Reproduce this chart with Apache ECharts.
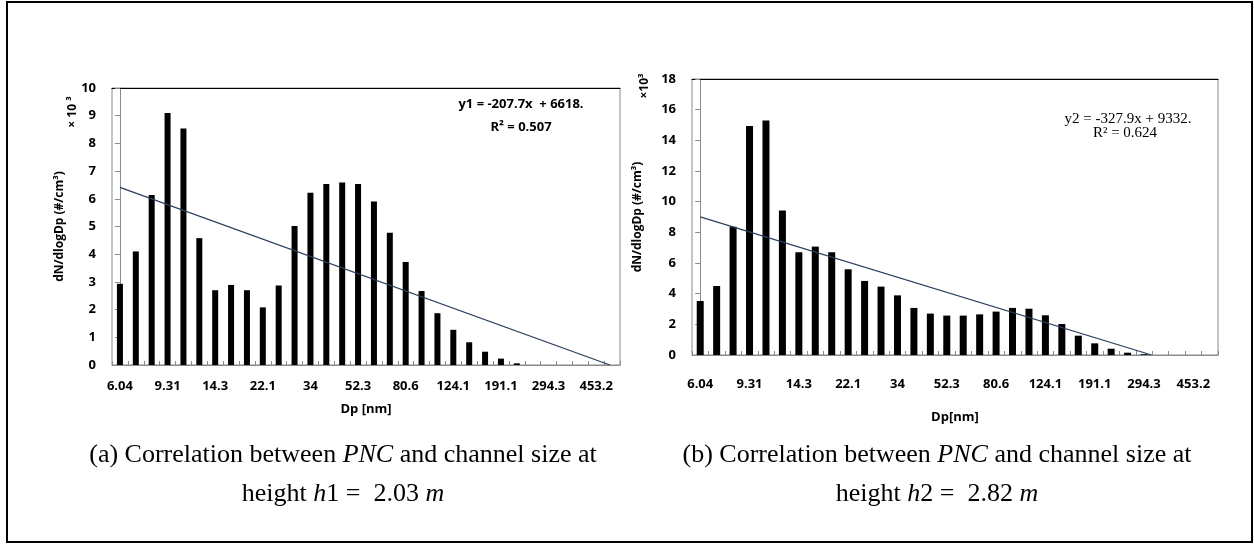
<!DOCTYPE html>
<html>
<head>
<meta charset="utf-8">
<script src="https://cdn.jsdelivr.net/npm/echarts@6/dist/echarts.min.js"></script>
<style>
  html, body { margin: 0; padding: 0; background: #fff; }
  #chart { width: 1254px; height: 544px; }
</style>
</head>
<body>
<div id="chart"></div>
<script>
// Channel mid-point diameters shown on the x axis (every third channel is labelled)
const tickLabels = ['6.04', '9.31', '14.3', '22.1', '34', '52.3', '80.6', '124.1', '191.1', '294.3', '453.2'];
const channelCount = 32;

// dN/dlogDp in units of 10^3 #/cm^3, one value per channel
const valuesH1 = [2.93, 4.10, 6.14, 9.10, 8.54, 4.58, 2.70, 2.89, 2.70, 2.08, 2.87, 5.02, 6.22, 6.53, 6.59, 6.53,
                  5.90, 4.77, 3.72, 2.67, 1.87, 1.27, 0.82, 0.48, 0.23, 0.06, 0, 0, 0, 0, 0, 0];
const valuesH2 = [3.52, 4.50, 8.37, 14.93, 15.30, 9.43, 6.70, 7.07, 6.70, 5.59, 4.83, 4.46, 3.89, 3.07, 2.70, 2.57,
                  2.57, 2.65, 2.83, 3.07, 3.02, 2.59, 2.02, 1.26, 0.76, 0.41, 0.15, 0.05, 0, 0, 0, 0];

// Linear fits y = slope * x + intercept (x = channel number starting at 1, y in #/cm^3)
const fitH1 = { name: 'y1', slope: -207.7, intercept: 6618, r2: '0.507' };
const fitH2 = { name: 'y2', slope: -327.9, intercept: 9332, r2: '0.624' };

const AXIS_GREY = '#8a8a8a';
const SANS = '"Open Sans", "Liberation Sans", sans-serif';
const SERIF = '"Liberation Serif", "DejaVu Serif", serif';

function buildCategories(labels, count) {
  const cats = [];
  for (let i = 0; i < count; i++) cats.push(i % 3 === 0 ? labels[i / 3] : '');
  return cats;
}

// End points of a fit line, from the first channel to where it meets zero
function fitSegment(fit, count) {
  const f = x => (fit.slope * x + fit.intercept) / 1000;
  const xEnd = Math.min(-fit.intercept / fit.slope, count);
  return [[0, f(1)], [xEnd - 1, Math.max(f(xEnd), 0)]];
}

const categories = buildCategories(tickLabels, channelCount);

function catAxis(gridIndex, name, nameGap, labelMargin) {
  return {
    type: 'category', gridIndex, data: categories,
    axisLine: { lineStyle: { color: AXIS_GREY, width: 1 } },
    axisTick: { show: true, inside: true, length: 4, interval: 0, lineStyle: { color: AXIS_GREY } },
    axisLabel: { interval: 2, color: '#000', fontFamily: SANS, fontWeight: 'bold', fontSize: 13, margin: labelMargin },
    splitLine: { show: false },
    name, nameLocation: 'middle', nameGap,
    nameTextStyle: { color: '#000', fontFamily: SANS, fontWeight: 'bold', fontSize: 13 }
  };
}
function fitAxis(gridIndex) {
  return {
    type: 'value', gridIndex, position: 'top', min: -0.5, max: channelCount - 0.5,
    axisLine: { show: true, onZero: false, lineStyle: { color: '#000', width: 1 } },
    axisTick: { show: false }, axisLabel: { show: false }, splitLine: { show: false }
  };
}
function valAxis(gridIndex, max, interval, nameGap) {
  return {
    type: 'value', gridIndex, min: 0, max, interval,
    axisLine: { show: true, lineStyle: { color: AXIS_GREY } },
    axisTick: { show: true, length: 5, lineStyle: { color: AXIS_GREY } },
    axisLabel: { color: '#000', fontFamily: SANS, fontWeight: 'bold', fontSize: 13, margin: 16 },
    splitLine: { show: false },
    name: 'dN/dlogDp (#/cm³)', nameLocation: 'middle', nameRotate: 90, nameGap,
    nameTextStyle: { color: '#000', fontFamily: SANS, fontWeight: 'bold', fontSize: 12 }
  };
}
function barSeries(axisIndex, data, width) {
  return {
    type: 'bar', xAxisIndex: axisIndex * 2, yAxisIndex: axisIndex, data,
    barWidth: width, itemStyle: { color: '#000' }, silent: true
  };
}
function lineSeries(axisIndex, fit) {
  return {
    type: 'line', xAxisIndex: axisIndex * 2 + 1, yAxisIndex: axisIndex,
    data: fitSegment(fit, channelCount), symbol: 'none', silent: true,
    lineStyle: { color: '#2b3f5c', width: 1.3 }
  };
}

function txt(text, x, y, font, align, extra) {
  return Object.assign({
    type: 'text', x, y, silent: true,
    style: { text, font, fill: '#000', textAlign: align || 'center', textVerticalAlign: 'middle' }
  }, extra || {});
}

const CAPTION_SIZE = 26;
const captionRich = {
  i: { fontFamily: SERIF, fontStyle: 'italic', fontSize: CAPTION_SIZE, fill: '#000' }
};
function caption(text, x, y) {
  return {
    type: 'text', x, y, silent: true,
    style: { text, font: CAPTION_SIZE + 'px ' + SERIF, fill: '#000', textAlign: 'center', textVerticalAlign: 'middle', rich: captionRich }
  };
}

const option = {
  backgroundColor: '#fff',
  animation: false,
  grid: [
    { left: 112, top: 88, width: 508, height: 277, show: true, borderColor: AXIS_GREY, borderWidth: 1 },
    { left: 692, top: 79, width: 526, height: 276, show: true, borderColor: AXIS_GREY, borderWidth: 1 }
  ],
  xAxis: [
    catAxis(0, 'Dp [nm]', 38, 15), fitAxis(0),
    catAxis(1, 'Dp[nm]', 56, 23), fitAxis(1)
  ],
  yAxis: [ valAxis(0, 10, 1, 46), valAxis(1, 18, 2, 48) ],
  series: [
    barSeries(0, valuesH1, 6), lineSeries(0, fitH1),
    barSeries(1, valuesH2, 7), lineSeries(1, fitH2)
  ],
  graphic: [
    // outer frame
    { type: 'rect', silent: true, shape: { x: 7, y: 2, width: 1245, height: 540 },
      style: { stroke: '#000', lineWidth: 2, fill: null } },
    // scale factors of the y axes
    txt('× 10 ³', 73, 112, 'bold 12px ' + SANS, 'center', { rotation: Math.PI / 2 }),
    txt('×10³', 645, 86, 'bold 12px ' + SANS, 'center', { rotation: Math.PI / 2 }),
    // fit equations
    txt(fitH1.name + ' = ' + fitH1.slope + 'x  + ' + fitH1.intercept + '.', 521, 104, 'bold 13px ' + SANS),
    txt('R² = ' + fitH1.r2, 521, 127, 'bold 13px ' + SANS),
    txt(fitH2.name + ' = ' + fitH2.slope + 'x + ' + fitH2.intercept + '.', 1128, 119, '15px ' + SERIF),
    txt('R² = ' + fitH2.r2, 1125, 133, '15px ' + SERIF),
    // sub-figure captions
    caption('(a) Correlation between {i|PNC} and channel size at', 343, 455),
    caption('height {i|h}1 =  2.03 {i|m}', 343, 494),
    caption('(b) Correlation between {i|PNC} and channel size at', 937, 455),
    caption('height {i|h}2 =  2.82 {i|m}', 937, 494)
  ]
};

echarts.init(document.getElementById('chart')).setOption(option);
</script>
</body>
</html>
